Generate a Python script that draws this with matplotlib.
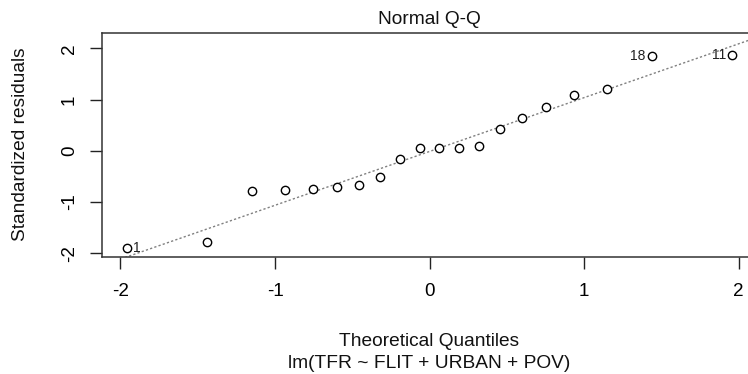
import numpy as np
import matplotlib
matplotlib.use("Agg")
import matplotlib.pyplot as plt

plt.rcParams['font.family'] = ['Liberation Sans', 'DejaVu Sans']
plt.rcParams['axes.unicode_minus'] = False

# Data
theoretical = [-1.96, -1.44, -1.15, -0.935, -0.755, -0.598, -0.454, -0.319, -0.189, -0.063,
               0.063, 0.189, 0.319, 0.454, 0.598, 0.755, 0.935, 1.15, 1.44, 1.96]
std_resid = [-1.903, -1.786, -0.786, -0.760, -0.741, -0.714, -0.669, -0.507, -0.156, 0.059,
             0.062, 0.064, 0.090, 0.432, 0.644, 0.852, 1.086, 1.197, 1.846, 1.866]
point_ids = {0: "1", 18: "18", 19: "11"}   # index in sorted arrays -> observation label
x_ticks = [-2, -1, 0, 1, 2]
y_ticks = [-2, -1, 0, 1, 2]
title = "Normal Q-Q"
xlabel = "Theoretical Quantiles"
sublabel = "lm(TFR ~ FLIT + URBAN + POV)"
ylabel = "Standardized residuals"

W, H = 748, 374
fig = plt.figure(figsize=(W / 100, H / 100), dpi=100)
left, right, top, bottom = 102.4, 756.7, 32.7, 256.7
ax = fig.add_axes([left / W, 1 - bottom / H, (right - left) / W, (bottom - top) / H])

x = np.array(theoretical)
y = np.array(std_resid)

# reference line through quartiles (as qqline)
q1, q3 = np.quantile(y, [0.25, 0.75])
z1, z3 = -0.6744898, 0.6744898
slope = (q3 - q1) / (z3 - z1)
intercept = q1 - slope * z1
xl = np.array([-3, 3])
ax.plot(xl, intercept + slope * xl, color='#808080', lw=1.0, linestyle=(0, (1.6, 1.6)), zorder=1)

ax.plot(x, y, linestyle='none', marker='o', markersize=6.0, markerfacecolor='white',
        markeredgecolor='black', markeredgewidth=1.0, zorder=2)

for i, lab in point_ids.items():
    if x[i] < 0:
        ax.annotate(lab, (x[i], y[i]), xytext=(4.5, 0), textcoords='offset points',
                    ha='left', va='center', fontsize=10, color='#222222')
    else:
        ax.annotate(lab, (x[i], y[i]), xytext=(-4.5, 0), textcoords='offset points',
                    ha='right', va='center', fontsize=10, color='#222222')

ax.set_xlim(-2.117, 2.117)
ax.set_ylim(-2.066, 2.305)
ax.set_xticks(x_ticks)
ax.set_yticks(y_ticks)
ax.set_xticklabels([str(t) for t in x_ticks], fontsize=13.6)
ax.set_yticklabels([str(t) for t in y_ticks], fontsize=13.6, rotation=90, va='center')
ax.tick_params(axis='both', direction='out', length=8.6, width=1.0, color='#222222')
ax.tick_params(axis='x', pad=10)
ax.tick_params(axis='y', pad=9)
for s in ax.spines.values():
    s.set_linewidth(1.1)
    s.set_color('#333333')

cx = (left + right) / 2 / W
fig.text(cx, 1 - 24 / H, title, ha='center', va='baseline', fontsize=13.8, color='#111111')
fig.text(cx, 1 - 345.5 / H, xlabel, ha='center', va='baseline', fontsize=13.8, color='#111111')
fig.text(cx, 1 - 368.5 / H, sublabel, ha='center', va='baseline', fontsize=13.8, color='#111111')
fig.text(25 / W, 1 - 144.5 / H, ylabel, rotation=90, rotation_mode='anchor',
         ha='center', va='baseline', fontsize=13.8, color='#111111')

fig.savefig("out.png", dpi=100)
